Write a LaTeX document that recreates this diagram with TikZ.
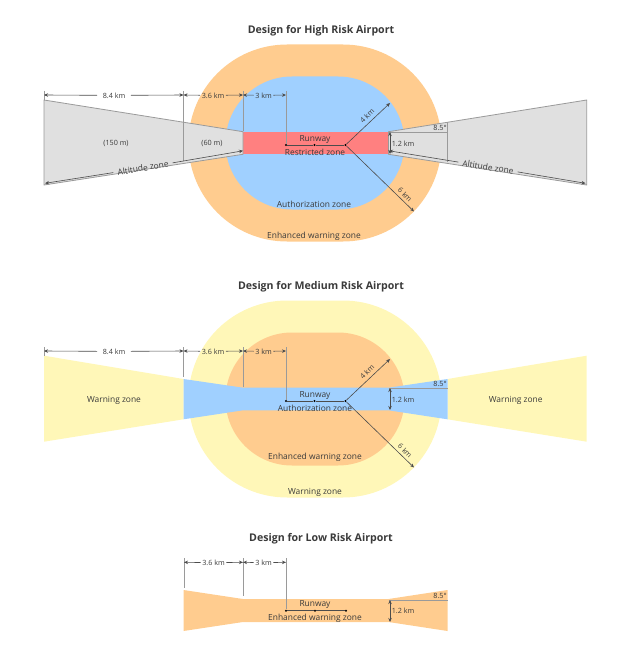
\documentclass[tikz,border=0pt]{standalone}
\usepackage{fontspec}
\setmainfont{Open Sans}
\usetikzlibrary{arrows.meta,calc}
\definecolor{zorange}{HTML}{FFCC8F}
\definecolor{zblue}{HTML}{A0D0FF}
\definecolor{zred}{HTML}{FF8080}
\definecolor{zyellow}{HTML}{FFF7B8}
\definecolor{zgray}{HTML}{E0E0E0}
\definecolor{zedge}{HTML}{9A9A9A}
\definecolor{zink}{HTML}{3A3A3A}
\tikzset{
  titletext/.style={font=\bfseries\fontsize{7.95pt}{10pt}\selectfont,text=zink,inner sep=0pt,yshift=-1.1pt},
  zonetext/.style={font=\fontsize{6.3pt}{8pt}\selectfont,text=zink,inner sep=0pt,yshift=-0.7pt},
  dimtext/.style={font=\fontsize{5.4pt}{7pt}\selectfont,text=zink,inner sep=1pt,yshift=-0.3pt},
  tick/.style={draw=zedge,line width=0.65pt},
  dimline/.style={draw=black!70,line width=0.45pt,{Stealth[length=3pt,width=2.6pt]}-{Stealth[length=3pt,width=2.6pt]}},
  dimend/.style={draw=black!70,line width=0.45pt,{Stealth[length=3pt,width=2.6pt]}-},
  solidline/.style={draw=black!70,line width=0.45pt},
  dotmark/.style={circle,fill=black,inner sep=0pt,minimum size=1.8pt},
  grayzone/.style={fill=zgray,draw=zedge,line width=0.6pt},
}
% x0,y0,x1,y1,radius,colour
\newcommand{\stadiumzone}[6]{\fill[#6,rounded corners=#5] (#1,#2) rectangle (#3,#4);}
% the runway marks shared by the high and medium designs
\newcommand{\sharedmarks}[1]{%
  \coordinate (t0) at (44,91);  \coordinate (t0e) at (44,100);
  \coordinate (t1) at (183.5,91); \coordinate (t1e) at (183.5,#1);
  \coordinate (t2) at (243,91); \coordinate (t2e) at (243,131);
  \coordinate (t3) at (286,91);
  \coordinate (d0) at (44,95); \coordinate (d1) at (183.5,95);
  \coordinate (d2) at (243,95); \coordinate (d3) at (286,95);
  \node[dotmark] (r1) at (286,145) {};
  \node[dotmark] (r2) at (314.5,145) {};
  \node[dotmark] (r3) at (345.5,145) {};
  \coordinate (e4) at (390,103);
  \coordinate (e6) at (414,211.5);
  \draw[tick] (t0) -- (t0e);
  \draw[tick] (t1) -- (t1e);
  \draw[tick] (t2) -- (t2e);
  \draw[tick] (t3) -- (r1);
  \node[dimtext,inner xsep=4pt] (l84) at (114,95) {8.4 km};
  \node[dimtext] (l36) at (213,95) {3.6 km};
  \node[dimtext] (l3) at (263.5,95) {3 km};
  \draw[dimend] (d0) -- (l84); \draw[dimend] (d1) -- (l84);
  \draw[dimend] (d1) -- (l36); \draw[dimend] (d2) -- (l36);
  \draw[dimend] (d2) -- (l3);  \draw[dimend] (d3) -- (l3);
  \draw[solidline] (r1) -- (r2) -- (r3);
  \draw[dimend] (e4) -- (r3);
  \draw[dimend] (e6) -- (r3);
  \node[dimtext,rotate=45] at (367,115.5) {4 km};
  \node[dimtext,rotate=-45] at (405,194.5) {6 km};
  \coordinate (a1) at (447.5,132); \coordinate (a0) at (388.5,132);
  \coordinate (h1) at (390,132); \coordinate (h2) at (390,154);
  \draw[tick] (a0) -- (a1);
  \draw[dimline] (h1) -- (h2);
  \node[dimtext] at (403,143) {1.2 km};
  \node[dimtext] at (440,127.5) {8.5°};
  \node[zonetext] at (315,138.5) {Runway};
}
\begin{document}
\begin{tikzpicture}[x=0.75pt,y=-0.75pt]
\useasboundingbox (0,0) rectangle (630,659);

% ---------- High ----------
\node[titletext] (th) at (321,29) {Design for High Risk Airport};
\begin{scope}[name prefix=h-]
  \stadiumzone{188.5}{44.5}{441.5}{241.5}{73.875pt}{zorange}
  \stadiumzone{225.5}{76.5}{404.5}{209.5}{49.875pt}{zblue}
  \fill[zred] (243,131.7) rectangle (388.5,154.3);
  \draw[grayzone] (243,131.7) -- (44,100) -- (44,185) -- (243,154.3) -- cycle;
  \draw[grayzone] (388.5,131.7) -- (586.7,100) -- (586.7,185) -- (388.5,154.3) -- cycle;
  \draw[tick] (447.5,122.5) -- (447.5,162.5);
  \sharedmarks{161}
  \coordinate (al1) at (45,183.3); \coordinate (al2) at (243,150.8);
  \coordinate (ar1) at (585.5,183.3); \coordinate (ar2) at (389,150.8);
  \node[zonetext,rotate=9.3,inner xsep=3pt,inner ysep=0pt] (az1) at (143,167) {Altitude zone};
  \node[zonetext,rotate=-8.6,inner xsep=3pt,inner ysep=0pt] (az2) at (488,166) {Altitude zone};
  \draw[dimend] (al1) -- (az1); \draw[dimend] (al2) -- (az1);
  \draw[dimend] (ar1) -- (az2); \draw[dimend] (ar2) -- (az2);
  \node[dimtext] at (116,143) {(150 m)};
  \node[dimtext] at (212,143) {(60 m)};
  \node[zonetext] at (315,151) {Restricted zone};
  \node[zonetext] at (314,203.7) {Authorization zone};
  \node[zonetext] at (314,235.7) {Enhanced warning zone};
\end{scope}

% ---------- Medium ----------
\node[titletext] (tm) at (321,285) {Design for Medium Risk Airport};
\begin{scope}[name prefix=m-]
  \stadiumzone{188.5}{300.5}{441.5}{497.5}{73.875pt}{zyellow}
  \stadiumzone{225.5}{332.5}{404.5}{465.5}{49.875pt}{zorange}
  \fill[zyellow] (183.5,379) -- (44,355.7) -- (44,441.7) -- (183.5,419.3) -- cycle;
  \fill[zyellow] (447.5,379) -- (586.7,355.7) -- (586.7,441.7) -- (447.5,419.3) -- cycle;
  \fill[zblue] (183.5,379) -- (243,387.7) -- (388.5,387.7) -- (447.5,379) -- (447.5,419.3) -- (388.5,410.3) -- (243,410.3) -- (183.5,419.3) -- cycle;
  \begin{scope}[shift={(0,256)}]
    \sharedmarks{121}
    \node[zonetext] at (315,151) {Authorization zone};
  \end{scope}
  \node[zonetext] at (114,399.7) {Warning zone};
  \node[zonetext] at (515.7,399.7) {Warning zone};
  \node[zonetext] at (315,456.7) {Enhanced warning zone};
  \node[zonetext] at (315,491) {Warning zone};
\end{scope}

% ---------- Low ----------
\node[titletext] (tl) at (321,537) {Design for Low Risk Airport};
\begin{scope}[name prefix=l-]
  \fill[zorange] (183.5,590) -- (243,599) -- (388.5,599) -- (447.5,590) -- (447.5,631) -- (388.5,622) -- (243,622) -- (183.5,631) -- cycle;
  \coordinate (t1) at (184,558); \coordinate (t1e) at (184,588);
  \coordinate (t2) at (243,558); \coordinate (t2e) at (243,596);
  \coordinate (t3) at (286,558);
  \coordinate (d1) at (184,562.3); \coordinate (d2) at (243,562.3); \coordinate (d3) at (286,562.3);
  \node[dotmark] (r1) at (286,610.7) {};
  \node[dotmark] (r2) at (315,610.7) {};
  \node[dotmark] (r3) at (346,610.7) {};
  \draw[tick] (t1) -- (t1e);
  \draw[tick] (t2) -- (t2e);
  \draw[tick] (t3) -- (r1);
  \node[dimtext] (l36) at (213.5,562.3) {3.6 km};
  \node[dimtext] (l3) at (263.5,562.3) {3 km};
  \draw[dimend] (d1) -- (l36); \draw[dimend] (d2) -- (l36);
  \draw[dimend] (d2) -- (l3); \draw[dimend] (d3) -- (l3);
  \draw[solidline] (r1) -- (r2) -- (r3);
  \coordinate (a0) at (388.5,600); \coordinate (a1) at (447.5,600);
  \coordinate (h1) at (390,600); \coordinate (h2) at (390,622);
  \draw[tick] (a0) -- (a1);
  \draw[dimline] (h1) -- (h2);
  \node[dimtext] at (403,610.5) {1.2 km};
  \node[dimtext] at (440,596) {8.5°};
  \node[zonetext] at (315,604) {Runway};
  \node[zonetext] at (315,617) {Enhanced warning zone};
\end{scope}
\end{tikzpicture}
\end{document}
